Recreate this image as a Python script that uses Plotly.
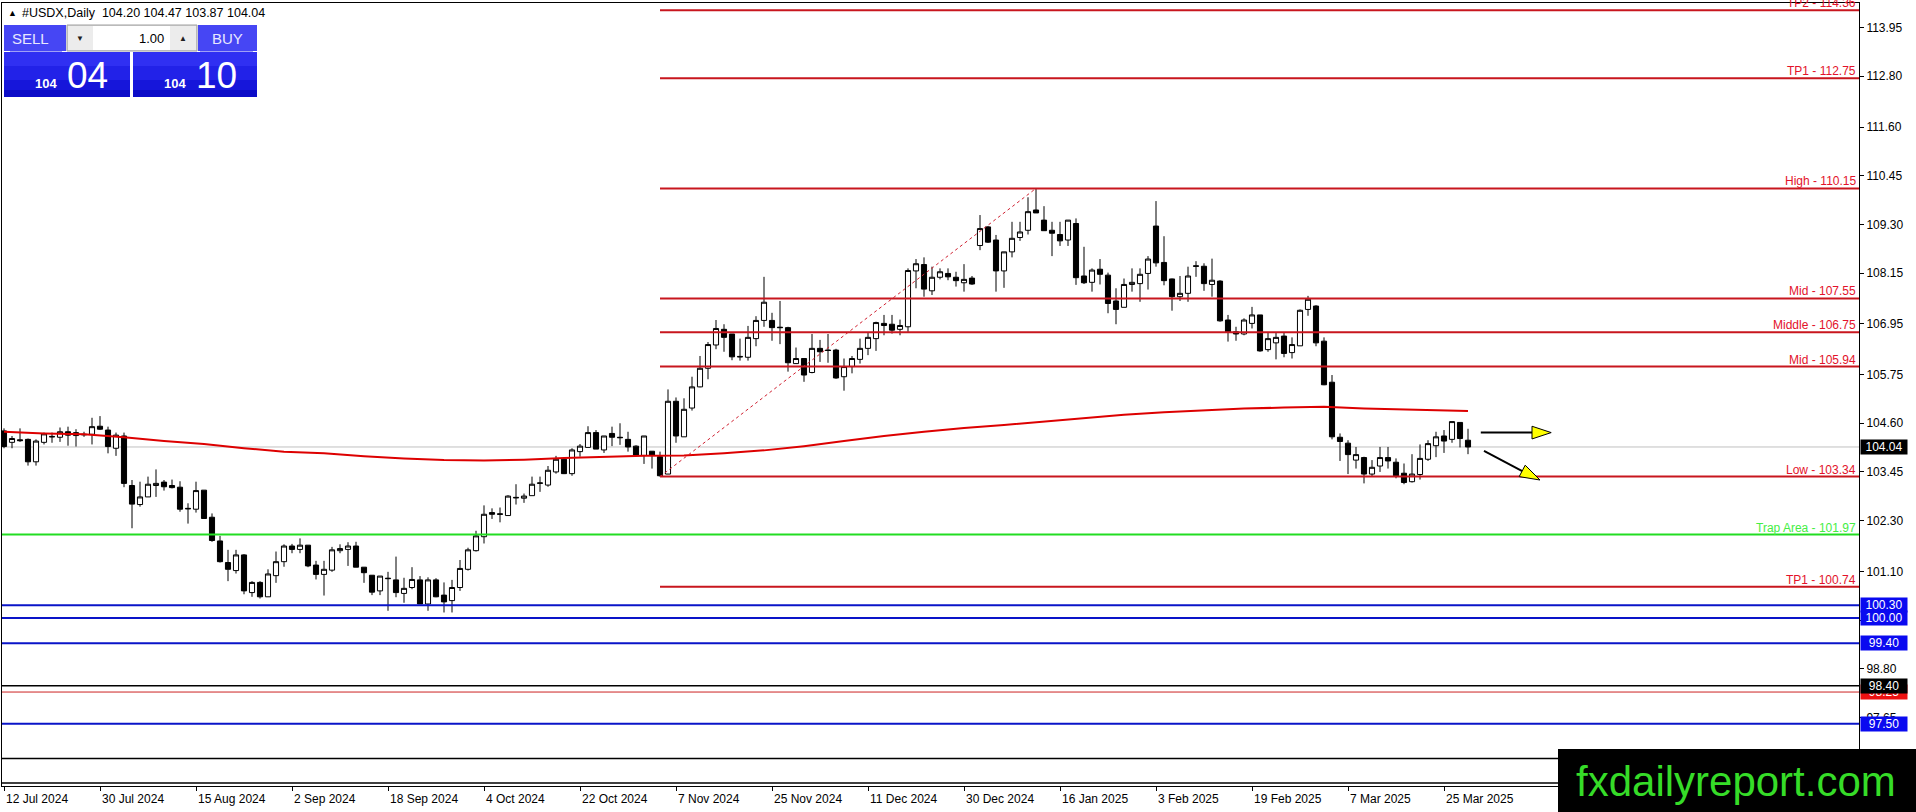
import plotly.graph_objects as go

# --- data -----------------------------------------------------------------
opens = [104.42, 104.15, 104.21, 104.22, 103.69, 104.15, 104.29, 104.27, 104.40, 104.31,
         104.34, 104.34, 104.53, 104.44, 104.01, 104.30, 103.13, 102.68, 102.86, 103.13,
         103.21, 103.13, 103.09, 102.59, 102.57, 103.02, 102.38, 101.82, 101.31, 101.12,
         101.49, 100.60, 100.84, 100.50, 101.00, 101.33, 101.70, 101.62, 101.72, 101.25,
         101.03, 101.13, 101.59, 101.62, 101.70, 101.20, 101.01, 100.64, 100.94, 100.90,
         100.58, 100.72, 100.90, 100.33, 100.90, 100.54, 100.41, 100.72, 101.15, 101.59,
         101.92, 102.49, 102.46, 102.42, 102.85, 102.83, 102.89, 103.18, 103.14, 103.45,
         103.75, 103.41, 103.93, 104.03, 104.38, 103.97, 104.36, 104.27, 104.22, 104.06,
         103.84, 103.94, 103.81, 103.40, 105.12, 104.28, 104.96, 105.46, 105.90, 106.45,
         106.82, 106.71, 106.18, 106.16, 106.60, 107.03, 107.03, 106.87, 106.86, 106.01,
         106.13, 105.80, 106.37, 106.33, 106.33, 105.70, 105.94, 106.11, 106.37, 106.60,
         106.96, 106.94, 106.82, 106.88, 108.20, 108.35, 107.73, 108.05, 108.14, 108.05,
         107.92, 108.03, 108.80, 109.24, 108.93, 108.20, 108.65, 108.99, 109.16, 109.64,
         109.40, 109.16, 109.06, 108.93, 109.32, 108.08, 107.93, 108.24, 108.10, 107.49,
         107.34, 107.88, 107.90, 108.14, 109.26, 108.40, 108.01, 107.59, 107.67, 108.32,
         108.31, 107.88, 107.96, 107.04, 106.76, 106.71, 106.96, 107.16, 106.34, 106.50,
         106.66, 106.27, 106.43, 107.29, 107.37, 106.54, 105.57, 104.27, 104.13, 103.73,
         103.79, 103.40, 103.59, 103.79, 103.68, 103.42, 103.22, 103.39, 103.75, 104.07,
         104.30, 104.22, 104.62, 104.20]
highs = [104.48, 104.30, 104.48, 104.24, 104.22, 104.38, 104.38, 104.50, 104.52, 104.46,
         104.40, 104.73, 104.77, 104.52, 104.38, 104.38, 103.26, 103.22, 103.34, 103.51,
         103.26, 103.27, 103.23, 102.71, 103.22, 103.02, 102.47, 101.94, 101.61, 101.61,
         101.51, 100.87, 100.87, 101.15, 101.57, 101.74, 101.75, 101.88, 101.72, 101.35,
         101.35, 101.68, 101.74, 101.79, 101.80, 101.20, 101.01, 100.99, 101.09, 101.45,
         100.95, 101.20, 100.99, 100.96, 100.94, 100.84, 100.90, 101.37, 101.66, 102.06,
         102.66, 102.59, 102.61, 102.90, 103.16, 102.94, 103.34, 103.34, 103.59, 103.83,
         103.80, 104.01, 104.11, 104.53, 104.44, 104.30, 104.52, 104.60, 104.40, 104.08,
         104.30, 103.94, 103.93, 105.40, 105.21, 105.19, 105.70, 106.19, 106.52, 107.04,
         106.94, 106.71, 106.60, 106.90, 107.13, 108.06, 107.21, 107.49, 106.88, 106.39,
         106.13, 106.71, 106.57, 106.71, 106.36, 106.13, 106.19, 106.60, 106.74, 107.00,
         107.16, 107.16, 107.05, 108.26, 108.48, 108.52, 108.30, 108.26, 108.26, 108.18,
         108.36, 108.08, 109.52, 109.26, 109.05, 108.65, 109.36, 109.36, 109.94, 110.15,
         109.73, 109.36, 109.36, 109.40, 109.44, 108.77, 108.26, 108.48, 108.16, 107.79,
         108.02, 108.26, 108.26, 108.55, 109.85, 109.02, 108.02, 108.08, 108.30, 108.43,
         108.38, 108.49, 107.98, 107.16, 106.88, 107.08, 107.35, 107.16, 106.74, 106.74,
         106.74, 106.63, 107.29, 107.61, 107.39, 106.63, 105.74, 104.36, 104.20, 104.04,
         103.81, 103.73, 104.04, 104.04, 103.77, 103.65, 103.87, 104.10, 104.20, 104.40,
         104.44, 104.64, 104.62, 104.47]
lows = [104.01, 104.01, 104.16, 103.60, 103.60, 104.10, 104.14, 104.16, 104.07, 104.05,
        104.28, 104.10, 104.44, 103.89, 103.83, 103.09, 102.12, 102.63, 102.86, 102.86,
        103.01, 103.06, 102.51, 102.23, 102.49, 102.35, 101.80, 101.31, 100.87, 101.05,
        100.56, 100.50, 100.46, 100.50, 100.83, 101.21, 101.53, 101.53, 101.20, 100.91,
        100.53, 101.09, 101.53, 101.23, 101.20, 100.83, 100.54, 100.54, 100.17, 100.49,
        100.36, 100.68, 100.33, 100.17, 100.49, 100.13, 100.13, 100.64, 101.12, 101.57,
        101.76, 102.34, 102.26, 102.41, 102.68, 102.72, 102.89, 102.98, 103.10, 103.41,
        103.40, 103.36, 103.81, 104.03, 103.99, 103.90, 104.06, 104.09, 103.93, 103.82,
        103.64, 103.53, 103.34, 103.40, 104.14, 104.28, 104.90, 105.45, 105.64, 106.35,
        106.29, 106.09, 106.08, 106.08, 106.42, 106.88, 106.55, 106.47, 105.82, 106.00,
        105.58, 105.78, 106.05, 106.03, 105.65, 105.37, 105.78, 106.01, 106.21, 106.31,
        106.68, 106.72, 106.68, 106.76, 107.79, 107.59, 107.63, 108.00, 107.98, 107.83,
        107.71, 107.87, 108.69, 108.86, 107.71, 107.80, 108.52, 108.91, 109.06, 109.57,
        109.15, 108.55, 108.79, 108.79, 107.87, 107.89, 107.71, 107.88, 107.20, 106.94,
        107.34, 107.71, 107.47, 107.76, 108.30, 107.86, 107.26, 107.49, 107.47, 108.06,
        107.73, 107.59, 107.00, 106.53, 106.55, 106.68, 106.84, 106.29, 106.29, 106.11,
        106.16, 106.13, 106.43, 107.14, 106.42, 105.50, 104.22, 103.71, 103.40, 103.53,
        103.18, 103.34, 103.45, 103.53, 103.30, 103.16, 103.20, 103.27, 103.71, 103.80,
        103.90, 104.14, 104.03, 103.87]
closes = [104.05, 104.24, 104.19, 103.69, 104.18, 104.35, 104.28, 104.40, 104.32, 104.38,
          104.33, 104.52, 104.46, 104.05, 104.32, 103.18, 102.69, 102.86, 103.16, 103.18,
          103.10, 103.08, 102.57, 102.58, 103.01, 102.35, 101.83, 101.33, 101.15, 101.49,
          100.64, 100.84, 100.50, 101.04, 101.33, 101.70, 101.62, 101.72, 101.23, 101.03,
          101.15, 101.61, 101.64, 101.70, 101.20, 101.07, 100.61, 100.99, 100.93, 100.60,
          100.70, 100.91, 100.33, 100.90, 100.50, 100.38, 100.72, 101.17, 101.61, 101.94,
          102.45, 102.45, 102.45, 102.88, 102.84, 102.88, 103.16, 103.19, 103.49, 103.75,
          103.41, 103.97, 104.06, 104.38, 103.99, 104.30, 104.27, 104.26, 104.04, 103.85,
          104.30, 103.85, 103.36, 105.12, 104.30, 104.93, 105.46, 105.90, 106.46, 106.84,
          106.63, 106.17, 106.17, 106.63, 107.03, 107.46, 106.86, 106.86, 106.03, 106.13,
          105.74, 106.37, 106.29, 106.32, 105.67, 105.94, 106.13, 106.37, 106.63, 106.98,
          106.91, 106.80, 106.91, 108.21, 108.37, 107.77, 108.05, 108.18, 108.06, 107.97,
          108.00, 107.89, 109.20, 108.88, 108.20, 108.65, 108.97, 109.12, 109.60, 109.57,
          109.15, 109.09, 108.91, 109.40, 108.04, 107.92, 108.22, 108.12, 107.43, 107.29,
          107.88, 107.93, 108.12, 108.48, 108.39, 107.97, 107.59, 107.67, 108.08, 108.31,
          107.90, 107.98, 107.02, 106.76, 106.71, 107.04, 107.16, 106.31, 106.60, 106.63,
          106.25, 106.46, 107.27, 107.53, 106.50, 105.51, 104.28, 104.17, 103.86, 103.86,
          103.40, 103.56, 103.79, 103.71, 103.36, 103.20, 103.40, 103.77, 104.12, 104.28,
          104.18, 104.64, 104.24, 104.04]
bars = list(range(len(closes)))

# moving average, read every 5 bars
ma_bars = [0, 5, 10, 15, 20, 25, 30, 35, 40, 45, 50, 55, 60, 65, 70, 75, 80, 85, 90,
           95, 100, 105, 110, 115, 120, 125, 130, 135, 140, 145, 150, 155, 160, 165,
           170, 175, 180, 183]
ma_vals = [104.40, 104.36, 104.34, 104.27, 104.18, 104.11, 104.01, 103.93, 103.89,
           103.82, 103.77, 103.73, 103.72, 103.74, 103.78, 103.81, 103.83, 103.84,
           103.89, 103.96, 104.06, 104.18, 104.30, 104.40, 104.49, 104.56, 104.64,
           104.72, 104.80, 104.86, 104.91, 104.95, 104.97, 104.99, 104.95, 104.93,
           104.91, 104.89]

date_labels = ["12 Jul 2024", "30 Jul 2024", "15 Aug 2024", "2 Sep 2024", "18 Sep 2024",
               "4 Oct 2024", "22 Oct 2024", "7 Nov 2024", "25 Nov 2024", "11 Dec 2024",
               "30 Dec 2024", "16 Jan 2025", "3 Feb 2025", "19 Feb 2025", "7 Mar 2025",
               "25 Mar 2025"]
bars_per_label = 12

price_ticks = [113.95, 112.80, 111.60, 110.45, 109.30, 108.15, 106.95, 105.75, 104.60,
               103.45, 102.30, 101.10, 99.95, 98.80, 97.65]

# analysis levels (drawn from the swing low bar)
red_levels = [114.36, 112.75, 110.15, 107.55, 106.75, 105.94, 103.34, 100.74]
red_names = ["TP2", "TP1", "High", "Mid", "Middle", "Mid", "Low", "TP1"]
trap_level = 101.97
blue_levels = [100.30, 100.00, 99.40, 97.50]
black_levels = [98.40, 96.68, 96.10]
red_thin_level = 98.25
last_price = 104.04
swing_low_bar, swing_high_bar = 82, 129

# --- geometry ---------------------------------------------------------------
W, H = 1916, 812
PL, PR, PT, PB = 2, 1859, 3, 786
X_RANGE = [-0.25, 231.875]
Y_RANGE = [96.03, 114.53]


def pxx(x):
    return (x - PL) / (PR - PL)


def pxy(y):
    return (PB - y) / (PB - PT)


FONT = "Liberation Sans, Arial, sans-serif"
RED_LINE = "#c8161e"
RED_TXT = "#e3122a"

fig = go.Figure()

fig.add_trace(go.Candlestick(
    x=bars, open=opens, high=highs, low=lows, close=closes,
    increasing=dict(line=dict(color="black", width=1), fillcolor="white"),
    decreasing=dict(line=dict(color="black", width=1), fillcolor="black"),
    whiskerwidth=0, showlegend=False, hoverinfo="skip"))

fig.add_trace(go.Scatter(x=ma_bars, y=ma_vals, mode="lines",
                         line=dict(color="#dd0000", width=2), showlegend=False,
                         hoverinfo="skip"))

shapes = []
ann = []

# current price line
shapes.append(dict(type="line", xref="paper", x0=0, x1=1, yref="y", y0=last_price,
                   y1=last_price, line=dict(color="#c0c0c0", width=1), layer="below"))

for lv, nm in zip(red_levels, red_names):
    shapes.append(dict(type="line", xref="x", x0=swing_low_bar, x1=X_RANGE[1] + 5,
                       yref="y", y0=lv, y1=lv, line=dict(color=RED_LINE, width=2)))
    ann.append(dict(xref="paper", x=1, xanchor="right", xshift=-1, yref="y", y=lv,
                    yanchor="bottom", yshift=-2, text=f"{nm} - {lv:.2f}", showarrow=False,
                    font=dict(family=FONT, size=12, color=RED_TXT)))

shapes.append(dict(type="line", xref="paper", x0=0, x1=1, yref="y", y0=trap_level,
                   y1=trap_level, line=dict(color="#22dd22", width=2)))
ann.append(dict(xref="paper", x=1, xanchor="right", xshift=-1, yref="y", y=trap_level,
                yanchor="bottom", yshift=-2, text=f"Trap Area - {trap_level:.2f}",
                showarrow=False, font=dict(family=FONT, size=12, color="#44ee44")))

for lv in blue_levels:
    shapes.append(dict(type="line", xref="paper", x0=0, x1=1, yref="y", y0=lv, y1=lv,
                       line=dict(color="#0a14c8", width=2)))
shapes.append(dict(type="line", xref="paper", x0=0, x1=1, yref="y", y0=red_thin_level,
                   y1=red_thin_level, line=dict(color="#cc2222", width=1)))
for lv in black_levels:
    shapes.append(dict(type="line", xref="paper", x0=0, x1=1, yref="y", y0=lv, y1=lv,
                       line=dict(color="black", width=1.5)))

# dotted swing line
shapes.append(dict(type="line", xref="x", yref="y", x0=swing_low_bar, y0=lows[swing_low_bar],
                   x1=swing_high_bar, y1=highs[swing_high_bar],
                   line=dict(color="#d02030", width=1, dash="dot")))

# arrows
shapes.append(dict(type="line", xref="x", yref="y", x0=184.6, y0=104.38, x1=191.2, y1=104.38,
                   line=dict(color="black", width=2)))
shapes.append(dict(type="path", xref="x", yref="y",
                   path="M 191.0,104.53 L 191.0,104.23 L 193.4,104.38 Z",
                   fillcolor="#ffff00", line=dict(color="black", width=1)))
shapes.append(dict(type="line", xref="x", yref="y", x0=185.0, y0=103.95, x1=189.9, y1=103.46,
                   line=dict(color="black", width=2)))
shapes.append(dict(type="path", xref="x", yref="y",
                   path="M 189.4,103.34 L 190.15,103.61 L 192.0,103.26 Z",
                   fillcolor="#ffff00", line=dict(color="black", width=1)))

# right-axis price boxes
def price_box(v, bg, txt=None):
    ann.append(dict(xref="paper", x=1, xanchor="left", xshift=1, yref="y", y=v,
                    yanchor="middle", text=txt or f"{v:.2f}", showarrow=False,
                    bgcolor=bg, borderpad=0, width=46,
                    font=dict(family=FONT, size=12, color="white")))

price_box(last_price, "black")
price_box(red_thin_level, "#ee1111")
price_box(98.40, "black")
for lv in blue_levels:
    price_box(lv, "#0a0af0")

# date labels
for i, lab in enumerate(date_labels):
    ann.append(dict(xref="x", x=i * bars_per_label, xanchor="left", yref="paper", y=0,
                    yanchor="top", yshift=-4, text=lab, showarrow=False,
                    font=dict(family=FONT, size=12, color="black")))

# header
ann.append(dict(xref="paper", x=pxx(6), xanchor="left", yref="paper", y=pxy(13),
                yanchor="middle", text="▲", showarrow=False,
                font=dict(family=FONT, size=9, color="black")))
ann.append(dict(xref="paper", x=pxx(20), xanchor="left", yref="paper", y=pxy(13),
                yanchor="middle", text="#USDX,Daily  104.20 104.47 103.87 104.04",
                showarrow=False, font=dict(family=FONT, size=12.5, color="black")))

# trade panel
def rect(x0, y0, x1, y1, fill, lc=None, lw=0):
    shapes.append(dict(type="rect", xref="paper", yref="paper", x0=pxx(x0), x1=pxx(x1),
                       y0=pxy(y1), y1=pxy(y0), fillcolor=fill,
                       line=dict(color=lc or fill, width=lw), layer="above"))

rect(3, 24, 258, 98, "#ffffff")
for x0, x1 in [(4, 130), (133, 257)]:
    rect(x0, 52, x1, 66, "#3030f2")
    rect(x0, 66, x1, 80, "#2222e8")
    rect(x0, 80, x1, 90, "#1616da")
    rect(x0, 90, x1, 97, "#0c0cc8")
rect(4, 25, 66, 51, "#4646f4")
rect(198, 25, 257, 51, "#4646f4")
rect(10, 51, 62, 52, "#a0a0f6")
rect(200, 51, 253, 52, "#a0a0f6")
rect(67, 25, 197, 51, "#d4d4d4", "#a0a0a0", 1)
rect(68, 26, 93, 50, "#ececec")
rect(93, 26, 170, 50, "#ffffff")
rect(170, 26, 196, 50, "#ececec")

def ptext(x, y, s, size, color, anchor="center", bold=False, yanchor="middle"):
    ann.append(dict(xref="paper", x=pxx(x), xanchor=anchor, yref="paper", y=pxy(y),
                    yanchor=yanchor, text=f"<b>{s}</b>" if bold else s, showarrow=False,
                    font=dict(family=FONT, size=size, color=color)))

ptext(30, 38, "SELL", 15, "#e8e8ff")
ptext(227, 38, "BUY", 15, "#e8e8ff")
ptext(80, 38, "▼", 8, "#202020")
ptext(183, 38, "▲", 8, "#202020")
ptext(166, 38, "1.00", 13, "black", anchor="right")
ptext(59, 93, "104", 13, "white", anchor="right", bold=True, yanchor="bottom")
ptext(65, 98, "04", 37, "white", anchor="left", yanchor="bottom")
ptext(188, 93, "104", 13, "white", anchor="right", bold=True, yanchor="bottom")
ptext(194, 98, "10", 37, "white", anchor="left", yanchor="bottom")

# watermark
shapes.append(dict(type="rect", xref="paper", yref="paper", x0=pxx(1558), x1=pxx(1920),
                   y0=pxy(815), y1=pxy(749), fillcolor="black", line=dict(width=0),
                   layer="above"))
ann.append(dict(xref="paper", x=pxx(1736), xanchor="center", yref="paper", y=pxy(781),
                yanchor="middle", text="fxdailyreport.com", showarrow=False,
                font=dict(family=FONT, size=42, color="#36dc28")))

fig.update_layout(
    width=W, height=H,
    margin=dict(l=PL, r=W - PR, t=PT, b=H - PB),
    paper_bgcolor="white", plot_bgcolor="white",
    showlegend=False, hovermode=False,
    boxgap=0.2, boxgroupgap=0.2,
    shapes=shapes, annotations=ann,
    xaxis=dict(range=X_RANGE, showgrid=False, zeroline=False, rangeslider=dict(visible=False),
               tickvals=[i * bars_per_label for i in range(len(date_labels))],
               showticklabels=False, ticks="outside", ticklen=4, tickcolor="black",
               showline=True, linecolor="black", linewidth=1, mirror=True, fixedrange=True),
    yaxis=dict(range=Y_RANGE, side="right", showgrid=False, zeroline=False,
               tickvals=price_ticks, ticktext=[f"{v:.2f}" for v in price_ticks],
               ticks="outside", ticklen=4, tickcolor="black",
               tickfont=dict(family=FONT, size=12, color="black"),
               showline=True, linecolor="black", linewidth=1, mirror=True, fixedrange=True),
)

# page body has a default 8px margin; drop it so the figure fills the window
fig.write_html("out.html", config={"displayModeBar": False},
               post_script="document.body.style.margin='0';"
                           "document.body.style.overflow='hidden';")
